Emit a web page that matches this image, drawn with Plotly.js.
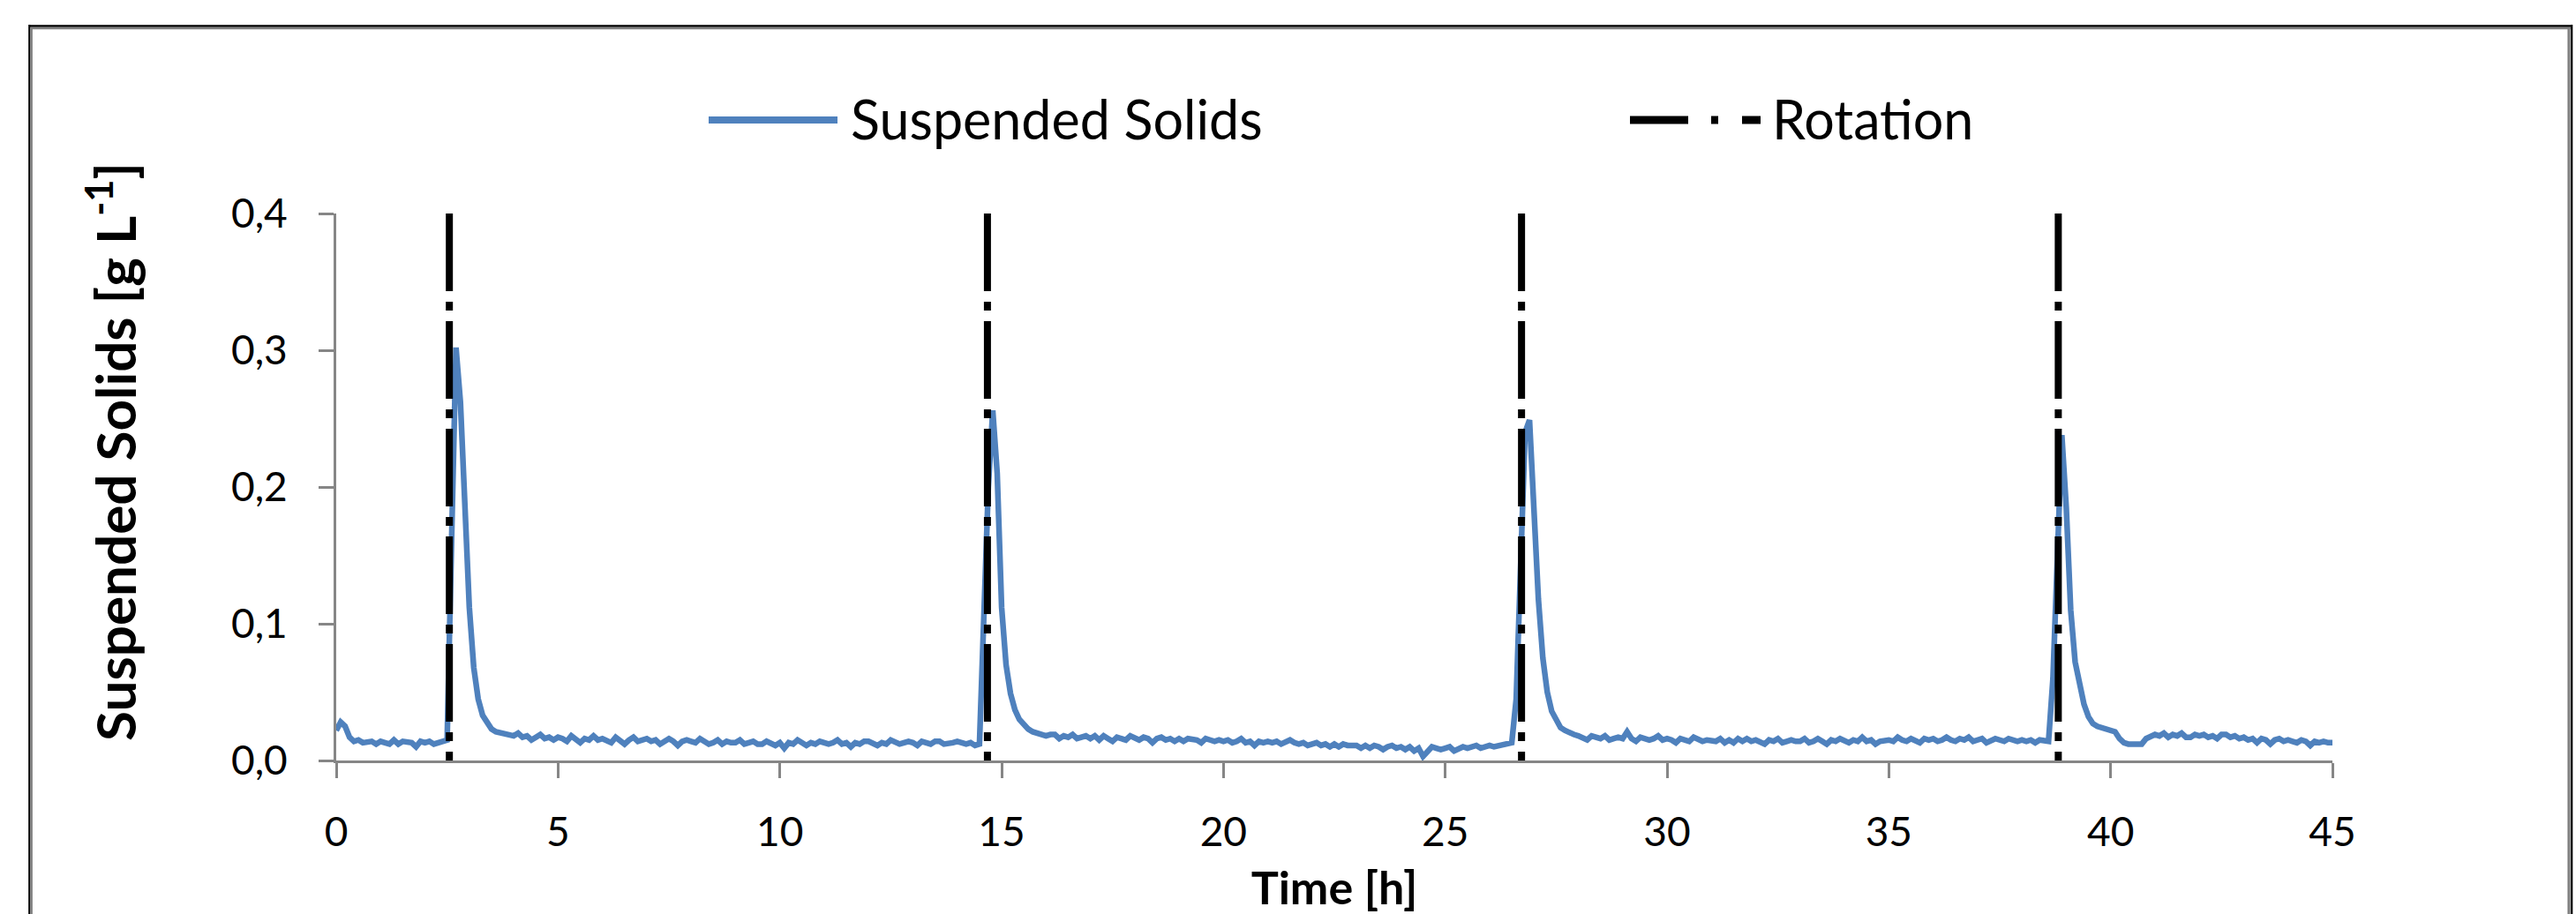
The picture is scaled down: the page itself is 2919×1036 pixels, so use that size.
<!DOCTYPE html>
<html>
<head>
<meta charset="utf-8">
<script src="https://cdn.plot.ly/plotly-3.0.1.min.js"></script>
<style>
  html, body { margin: 0; padding: 0; background: #ffffff; }
  #chart { width: 2919px; height: 1036px; }
</style>
</head>
<body>
<div id="chart"></div>
<script>
// ---------------- DATA ----------------
// Time axis of the suspended-solids record: start and sampling step (hours)
const timeStart = 0;
const timeStep = 0.1;

// Suspended solids [g/L], one row per hour (t = h.0 ... h.9)
const suspendedSolids = [
  0.022,0.028,0.025,0.017,0.014,0.015,0.013,0.014,0.014,0.012, // 0
  0.014,0.013,0.012,0.015,0.012,0.014,0.013,0.013,0.010,0.014, // 1
  0.013,0.014,0.012,0.013,0.014,0.015,0.160,0.302,0.262,0.190, // 2
  0.112,0.068,0.045,0.033,0.027,0.023,0.021,0.020,0.019,0.019, // 3
  0.018,0.020,0.017,0.018,0.015,0.017,0.019,0.016,0.017,0.015, // 4
  0.017,0.016,0.014,0.018,0.016,0.013,0.016,0.015,0.018,0.015, // 5
  0.016,0.015,0.013,0.017,0.015,0.012,0.015,0.017,0.014,0.015, // 6
  0.016,0.014,0.015,0.012,0.014,0.016,0.014,0.011,0.014,0.015, // 7
  0.014,0.013,0.016,0.014,0.012,0.013,0.015,0.012,0.014,0.013, // 8
  0.013,0.015,0.012,0.013,0.014,0.012,0.012,0.014,0.013,0.011, // 9
  0.013,0.009,0.013,0.012,0.015,0.013,0.011,0.013,0.012,0.014, // 10
  0.013,0.012,0.013,0.015,0.012,0.013,0.010,0.013,0.012,0.014, // 11
  0.014,0.013,0.011,0.013,0.012,0.015,0.013,0.012,0.013,0.014, // 12
  0.013,0.011,0.014,0.013,0.012,0.014,0.014,0.012,0.012,0.013, // 13
  0.014,0.013,0.012,0.013,0.011,0.012,0.100,0.200,0.256,0.210, // 14
  0.112,0.070,0.049,0.037,0.030,0.026,0.023,0.021,0.020,0.019, // 15
  0.018,0.019,0.019,0.016,0.018,0.017,0.019,0.016,0.017,0.018, // 16
  0.016,0.018,0.015,0.018,0.016,0.014,0.017,0.016,0.015,0.018, // 17
  0.016,0.015,0.017,0.016,0.013,0.016,0.017,0.015,0.016,0.014, // 18
  0.016,0.014,0.016,0.016,0.015,0.013,0.016,0.015,0.014,0.015, // 19
  0.014,0.015,0.013,0.014,0.016,0.013,0.014,0.011,0.014,0.013, // 20
  0.014,0.013,0.014,0.012,0.013,0.015,0.013,0.012,0.013,0.011, // 21
  0.012,0.013,0.011,0.012,0.010,0.012,0.010,0.012,0.011,0.011, // 22
  0.011,0.009,0.011,0.009,0.011,0.010,0.008,0.010,0.011,0.009, // 23
  0.010,0.008,0.010,0.007,0.009,0.003,0.007,0.010,0.009,0.008, // 24
  0.009,0.010,0.007,0.009,0.010,0.009,0.010,0.011,0.009,0.010, // 25
  0.011,0.010,0.011,0.012,0.012,0.013,0.045,0.150,0.240,0.249, // 26
  0.180,0.118,0.075,0.050,0.036,0.029,0.024,0.022,0.020,0.019, // 27
  0.018,0.017,0.015,0.018,0.017,0.016,0.018,0.015,0.016,0.017, // 28
  0.016,0.021,0.016,0.014,0.017,0.016,0.015,0.016,0.018,0.015, // 29
  0.016,0.015,0.013,0.016,0.015,0.014,0.017,0.015,0.014,0.015, // 30
  0.015,0.014,0.016,0.013,0.015,0.013,0.016,0.014,0.016,0.014, // 31
  0.015,0.014,0.012,0.015,0.014,0.016,0.013,0.014,0.015,0.014, // 32
  0.014,0.016,0.013,0.014,0.016,0.014,0.012,0.015,0.014,0.016, // 33
  0.014,0.013,0.015,0.014,0.017,0.014,0.015,0.012,0.014,0.015, // 34
  0.015,0.014,0.017,0.015,0.014,0.016,0.015,0.013,0.016,0.015, // 35
  0.016,0.014,0.015,0.017,0.015,0.014,0.016,0.015,0.017,0.014, // 36
  0.015,0.016,0.013,0.015,0.016,0.015,0.014,0.016,0.015,0.014, // 37
  0.015,0.014,0.015,0.013,0.015,0.014,0.014,0.060,0.140,0.238, // 38
  0.185,0.110,0.072,0.055,0.041,0.032,0.027,0.025,0.024,0.024, // 39
  0.023,0.021,0.016,0.013,0.012,0.012,0.013,0.012,0.016,0.018, // 40
  0.019,0.018,0.020,0.017,0.019,0.018,0.020,0.017,0.017,0.019, // 41
  0.018,0.019,0.017,0.018,0.016,0.019,0.019,0.017,0.018,0.016, // 42
  0.017,0.015,0.016,0.013,0.016,0.015,0.012,0.015,0.016,0.014, // 43
  0.015,0.014,0.013,0.015,0.014,0.011,0.014,0.013,0.014,0.013, // 44
  0.013                                                        // 45
];

// Rotation events (hours) and the span of the marker lines (g/L)
const rotationTimes = [2.55, 14.68, 26.72, 38.82];
const rotationSpan = [0.4, 0];

// Axes
const xTickValues = [0, 5, 10, 15, 20, 25, 30, 35, 40, 45];
const yTickValues = [0, 0.1, 0.2, 0.3, 0.4];
const xRange = [0, 45];
const yRange = [0, 0.4];

// Texts
const seriesNames = ["Suspended Solids", "Rotation"];
const xTitle = "Time [h]";
const yTitle = "Suspended Solids [g L<sup>-1</sup>]";

// ---------------- LAYOUT HELPERS ----------------
const W = 2919, H = 1036;
const plotL = 381, plotR = 2643, plotT = 242, plotB = 862;
const pw = plotR - plotL, ph = plotB - plotT;
const px = x => (x - plotL) / pw;      // pixel -> paper x
const py = y => (plotB - y) / ph;      // pixel -> paper y

const blue = "#4F81BD";
const axisGray = "#868686";
const FONT = "Lato, 'Open Sans', sans-serif";
const rotDash = "88px,12px,10px,12px";

// rotation trace: one segment per event
const rotX = [], rotY = [];
rotationTimes.forEach(t => { rotX.push(t, t, null); rotY.push(rotationSpan[0], rotationSpan[1], null); });

const traces = [
  {
    type: "scatter", mode: "lines", name: seriesNames[0],
    x0: timeStart, dx: timeStep, y: suspendedSolids,
    line: { color: blue, width: 6.5 },
    hoverinfo: "x+y"
  },
  {
    type: "scatter", mode: "lines", name: seriesNames[1],
    x: rotX, y: rotY,
    line: { color: "#000000", width: 8, dash: rotDash },
    connectgaps: false
  }
];

const hline = (x0, x1, y, color, width, dash) => ({
  type: "line", xref: "paper", yref: "paper",
  x0: px(x0), x1: px(x1), y0: py(y), y1: py(y),
  line: { color: color, width: width, dash: dash || "solid" }, layer: "above"
});
const vline = (x, y0, y1, color, width) => ({
  type: "line", xref: "paper", yref: "paper",
  x0: px(x), x1: px(x), y0: py(y0), y1: py(y1),
  line: { color: color, width: width }, layer: "above"
});

const shapes = [
  // chart-area frame
  hline(33, 2915, 29.5, "#000000", 2.4),
  vline(33.3, 28, 1050, "#000000", 2.2),
  vline(2914.2, 28, 1050, "#000000", 2.2),
  hline(34.5, 2913, 32, "#808080", 2.6),
  vline(35.6, 31, 1050, "#808080", 2.6),
  vline(2911, 31, 1050, "#808080", 3.2),
  // legend samples
  hline(803, 949, 136, blue, 8),
  hline(1847, 1995, 136, "#000000", 9, "66px,26px,8px,27px")
];

const annotations = [
  { xref: "paper", yref: "paper", x: px(962), y: py(134), xanchor: "left", yanchor: "middle",
    text: seriesNames[0], showarrow: false, font: { family: FONT, size: 61, color: "#000" } },
  { xref: "paper", yref: "paper", x: px(2006), y: py(134), xanchor: "left", yanchor: "middle",
    text: seriesNames[1], showarrow: false, font: { family: FONT, size: 61, color: "#000" } },
  { xref: "paper", yref: "paper", x: px(126), y: py(512), xanchor: "center", yanchor: "middle",
    text: yTitle, textangle: -90, showarrow: false,
    font: { family: FONT, size: 62, color: "#000", weight: "bold" } }
];

const axisCommon = {
  showline: true, linecolor: axisGray, linewidth: 3,
  ticks: "outside", ticklen: 17, tickwidth: 3, tickcolor: axisGray,
  showgrid: false, zeroline: false, fixedrange: true,
  tickfont: { family: FONT, size: 46, color: "#000" }
};

const layout = {
  width: W, height: H,
  margin: { l: plotL, r: W - plotR, t: plotT, b: H - plotB, pad: 0, autoexpand: false },
  paper_bgcolor: "#ffffff", plot_bgcolor: "#ffffff",
  font: { family: FONT, color: "#000" },
  separators: ", ",
  showlegend: false,
  xaxis: Object.assign({}, axisCommon, {
    range: xRange, tickmode: "array", tickvals: xTickValues,
    ticklabelstandoff: 22, automargin: false,
    title: { text: xTitle, standoff: 32, font: { family: FONT, size: 52, color: "#000", weight: "bold" } }
  }),
  yaxis: Object.assign({}, axisCommon, {
    range: yRange, tickmode: "array", tickvals: yTickValues, tickformat: ".1f",
    ticklabelstandoff: 26, automargin: false
  }),
  shapes: shapes,
  annotations: annotations
};

Plotly.newPlot("chart", traces, layout, { displayModeBar: false, staticPlot: true });
</script>
</body>
</html>
